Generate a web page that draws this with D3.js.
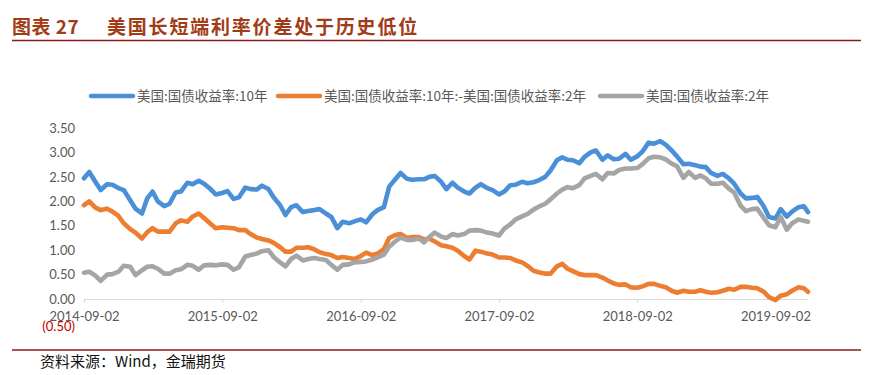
<!DOCTYPE html>
<html>
<head>
<meta charset="utf-8">
<script src="https://cdn.jsdelivr.net/npm/d3@7"></script>
<style>
  body { margin: 0; background: #fff; }
  .chart text { font-family: Lato, "Noto Sans", sans-serif; }
</style>
</head>
<body>
<div class="chart"></div>
<script>
// semi-monthly readings
var dates = [
  '2014-09-02','2014-09-16','2014-10-02','2014-10-16','2014-11-02','2014-11-16','2014-12-02','2014-12-16',
  '2015-01-02','2015-01-16','2015-02-02','2015-02-16','2015-03-02','2015-03-16','2015-04-02','2015-04-16',
  '2015-05-02','2015-05-16','2015-06-02','2015-06-16','2015-07-02','2015-07-16','2015-08-02','2015-08-16',
  '2015-09-02','2015-09-16','2015-10-02','2015-10-16','2015-11-02','2015-11-16','2015-12-02','2015-12-16',
  '2016-01-02','2016-01-16','2016-02-02','2016-02-16','2016-03-02','2016-03-16','2016-04-02','2016-04-16',
  '2016-05-02','2016-05-16','2016-06-02','2016-06-16','2016-07-02','2016-07-16','2016-08-02','2016-08-16',
  '2016-09-02','2016-09-16','2016-10-02','2016-10-16','2016-11-02','2016-11-16','2016-12-02','2016-12-16',
  '2017-01-02','2017-01-16','2017-02-02','2017-02-16','2017-03-02','2017-03-16','2017-04-02','2017-04-16',
  '2017-05-02','2017-05-16','2017-06-02','2017-06-16','2017-07-02','2017-07-16','2017-08-02','2017-08-16',
  '2017-09-02','2017-09-16','2017-10-02','2017-10-16','2017-11-02','2017-11-16','2017-12-02','2017-12-16',
  '2018-01-02','2018-01-16','2018-02-02','2018-02-16','2018-03-02','2018-03-16','2018-04-02','2018-04-16',
  '2018-05-02','2018-05-16','2018-06-02','2018-06-16','2018-07-02','2018-07-16','2018-08-02','2018-08-16',
  '2018-09-02','2018-09-16','2018-10-02','2018-10-16','2018-11-02','2018-11-16','2018-12-02','2018-12-16',
  '2019-01-02','2019-01-16','2019-02-02','2019-02-16','2019-03-02','2019-03-16','2019-04-02','2019-04-16',
  '2019-05-02','2019-05-16','2019-06-02','2019-06-16','2019-07-02','2019-07-16','2019-08-02','2019-08-16',
  '2019-09-02','2019-09-16','2019-10-02','2019-10-16','2019-11-02','2019-11-16','2019-11-27'
];

var us10y = [
  2.47,2.60,2.40,2.23,2.35,2.34,2.27,2.23,
  2.02,1.85,1.75,2.06,2.20,2.00,1.90,1.95,
  2.18,2.20,2.38,2.35,2.42,2.36,2.25,2.14,
  2.17,2.21,2.05,2.08,2.28,2.25,2.24,2.32,
  2.25,2.08,1.92,1.72,1.88,1.92,1.78,1.80,
  1.82,1.84,1.75,1.68,1.45,1.58,1.55,1.59,
  1.63,1.57,1.73,1.82,1.88,2.30,2.45,2.58,
  2.46,2.44,2.45,2.45,2.50,2.52,2.40,2.25,
  2.38,2.28,2.20,2.16,2.28,2.35,2.27,2.23,
  2.14,2.20,2.33,2.34,2.40,2.37,2.39,2.43,
  2.50,2.63,2.84,2.90,2.85,2.84,2.78,2.91,
  3.00,3.04,2.85,2.94,2.86,2.87,2.97,2.85,
  2.92,3.02,3.20,3.18,3.23,3.16,3.04,2.92,
  2.76,2.77,2.74,2.71,2.70,2.58,2.52,2.56,
  2.47,2.36,2.16,2.06,2.07,2.09,1.90,1.68,
  1.65,1.84,1.69,1.79,1.88,1.90,1.78
];

var spread = [
  1.92,2.00,1.87,1.82,1.85,1.79,1.70,1.55,
  1.43,1.36,1.24,1.37,1.45,1.38,1.38,1.38,
  1.55,1.61,1.58,1.69,1.75,1.66,1.54,1.45,
  1.47,1.46,1.45,1.41,1.41,1.33,1.26,1.23,
  1.20,1.15,1.06,0.97,0.97,1.05,1.05,1.06,
  1.02,0.96,0.92,0.90,0.84,0.86,0.84,0.82,
  0.88,0.95,0.90,0.93,1.02,1.25,1.31,1.33,
  1.25,1.27,1.27,1.22,1.24,1.18,1.10,1.08,
  1.05,0.99,0.88,0.81,0.99,0.97,0.93,0.91,
  0.85,0.85,0.84,0.79,0.75,0.68,0.58,0.55,
  0.52,0.52,0.67,0.72,0.62,0.57,0.51,0.49,
  0.49,0.49,0.44,0.38,0.32,0.29,0.30,0.24,
  0.23,0.26,0.31,0.31,0.27,0.24,0.17,0.13,
  0.17,0.15,0.15,0.18,0.15,0.13,0.14,0.17,
  0.21,0.19,0.25,0.25,0.23,0.22,0.15,0.04,
  -0.02,0.07,0.10,0.17,0.24,0.22,0.15
];

var us2y = [
  0.54,0.56,0.48,0.37,0.50,0.51,0.56,0.68,
  0.66,0.49,0.59,0.66,0.67,0.62,0.52,0.52,
  0.59,0.61,0.70,0.68,0.60,0.69,0.70,0.69,
  0.71,0.70,0.60,0.65,0.87,0.90,0.93,0.98,
  1.00,0.86,0.75,0.67,0.82,0.89,0.79,0.82,
  0.84,0.82,0.80,0.70,0.60,0.70,0.71,0.75,
  0.76,0.77,0.81,0.85,0.91,1.07,1.18,1.26,
  1.21,1.21,1.24,1.16,1.27,1.36,1.28,1.25,
  1.33,1.30,1.33,1.40,1.41,1.40,1.36,1.34,
  1.30,1.44,1.53,1.63,1.69,1.74,1.83,1.89,
  1.95,2.04,2.16,2.24,2.29,2.27,2.33,2.47,
  2.52,2.56,2.45,2.58,2.57,2.64,2.67,2.67,
  2.68,2.76,2.88,2.91,2.90,2.86,2.77,2.72,
  2.48,2.60,2.48,2.53,2.47,2.36,2.36,2.38,
  2.26,2.18,1.91,1.80,1.84,1.85,1.66,1.51,
  1.47,1.68,1.42,1.55,1.63,1.60,1.58
];

var seriesNames = ['美国:国债收益率:10年', '美国:国债收益率:10年:-美国:国债收益率:2年', '美国:国债收益率:2年'];
var seriesColors = ['#4a90d9', '#ed7d31', '#a5a5a5'];
var yTicks = [3.5, 3, 2.5, 2, 1.5, 1, 0.5, 0, -0.5];
var xTicks = ['2014-09-02', '2015-09-02', '2016-09-02', '2017-09-02', '2018-09-02', '2019-09-02'];

var parse = d3.timeParse('%Y-%m-%d');

var svg = d3.select('.chart').append('svg')
  .attr('width', 876)
  .attr('height', 375);

svg.append('rect').attr('width', 876).attr('height', 375).attr('fill', '#fff');

// title + rule
svg.append('text')
  .attr('x', 12).attr('y', 34)
  .attr('fill', '#a13c17')
  .style('font-family', '"Noto Sans CJK SC", sans-serif')
  .style('font-weight', 700)
  .style('font-size', '19px')
  .style('letter-spacing', '0.5px')
  .text('图表 27');
svg.append('text')
  .attr('x', 107).attr('y', 34)
  .attr('fill', '#a13c17')
  .style('font-family', '"Noto Sans CJK SC", sans-serif')
  .style('font-weight', 700)
  .style('font-size', '19px')
  .style('letter-spacing', '1.8px')
  .text('美国长短端利率价差处于历史低位');
svg.append('line')
  .attr('x1', 12).attr('x2', 861).attr('y1', 40.5).attr('y2', 40.5)
  .attr('stroke', '#8b1a1a').attr('stroke-width', 1.6);

var x = d3.scaleTime()
  .domain([parse(dates[0]), parse(dates[dates.length - 1])])
  .range([84, 808]);

var y = d3.scaleLinear()
  .domain([-0.5, 3.5])
  .range([323.5, 128]);

// y labels, no axis line
var yAxis = svg.append('g')
  .attr('transform', 'translate(75, 0)')
  .call(d3.axisLeft(y).tickValues(yTicks).tickSize(0).tickPadding(0)
    .tickFormat(function(d) { return d < 0 ? '(' + d3.format('.2f')(-d) + ')' : d3.format('.2f')(d); }));
yAxis.select('.domain').remove();
yAxis.selectAll('text')
  .attr('fill', function(d) { return d < 0 ? '#c00000' : '#595959'; })
  .attr('dy', function(d) { return d < 0 ? '0.5em' : '0.32em'; })
  .style('font-size', '13px');

var xAxis = svg.append('g')
  .attr('transform', 'translate(0,' + y(0) + ')')
  .call(d3.axisBottom(x).tickValues(xTicks.map(parse)).tickSize(4).tickSizeOuter(0).tickPadding(9)
    .tickFormat(d3.timeFormat('%Y-%m-%d')));
xAxis.select('.domain').attr('stroke', '#d9d9d9');
xAxis.selectAll('.tick line').attr('stroke', '#d9d9d9');
xAxis.selectAll('text').attr('fill', '#595959').style('font-size', '13px');

// series, drawn in legend order
var allSeries = [us10y, spread, us2y];
var line = d3.line()
  .x(function(d, i) { return x(parse(dates[i])); })
  .y(function(d) { return y(d); });

svg.append('g')
  .attr('class', 'lines')
  .selectAll('path')
  .data(allSeries)
  .enter().append('path')
  .attr('d', function(d) { return line(d); })
  .attr('fill', 'none')
  .attr('stroke', function(d, i) { return seriesColors[i]; })
  .attr('stroke-width', 4.6)
  .attr('stroke-linejoin', 'round')
  .attr('stroke-linecap', 'round');

// legend
var legendX = [91, 278, 600];
var legend = svg.append('g')
  .attr('class', 'legend')
  .selectAll('g')
  .data(seriesNames)
  .enter().append('g')
  .attr('transform', function(d, i) { return 'translate(' + legendX[i] + ', 96)'; });
legend.append('line')
  .attr('x1', 0).attr('x2', 42).attr('y1', 0).attr('y2', 0)
  .attr('stroke', function(d, i) { return seriesColors[i]; })
  .attr('stroke-width', 4.5)
  .attr('stroke-linecap', 'round');
legend.append('text')
  .attr('x', 46).attr('y', 0).attr('dy', '0.35em')
  .attr('fill', '#595959')
  .style('font-family', '"Noto Sans CJK SC", sans-serif')
  .style('font-size', '13.5px')
  .text(function(d) { return d; });

// source
svg.append('line')
  .attr('x1', 12).attr('x2', 861).attr('y1', 350).attr('y2', 350)
  .attr('stroke', '#8b1a1a').attr('stroke-width', 1.3);
svg.append('text')
  .attr('x', 40).attr('y', 367)
  .attr('fill', '#111')
  .style('font-family', '"Noto Sans CJK SC", sans-serif')
  .style('font-size', '15px')
  .text('资料来源：Wind，金瑞期货');
</script>
</body>
</html>
